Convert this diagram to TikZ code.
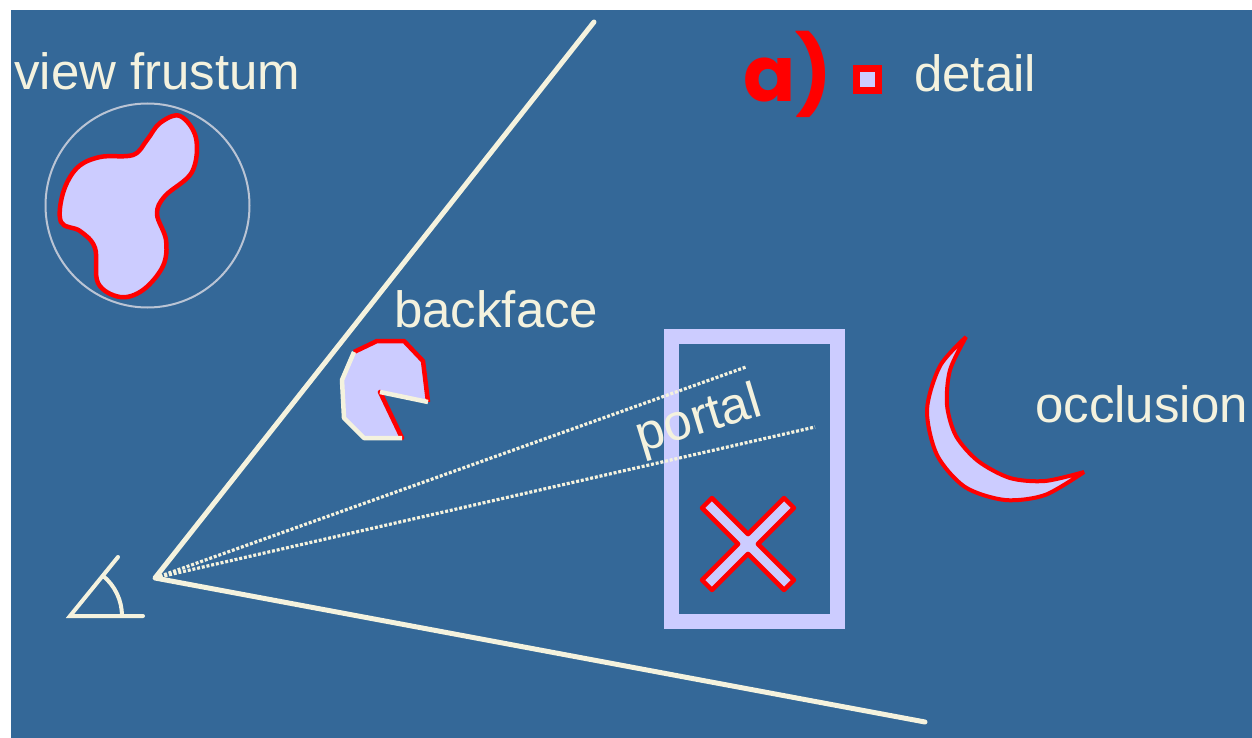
\documentclass[tikz,border=0pt]{standalone}
\usepackage{fontspec}
\setmainfont{Liberation Sans}
\newfontfamily\tagfont{Poppins}
\usepackage{tikz}
\usetikzlibrary{calc,positioning}
\definecolor{bgblue}{RGB}{52,104,152}
\definecolor{cream}{RGB}{244,242,222}
\definecolor{lilac}{RGB}{204,204,255}
\definecolor{ringgray}{RGB}{186,196,212}
\tikzset{
  word/.style={text=cream, inner sep=0pt, anchor=base west, font=\fontsize{51}{60}\selectfont},
  ray/.style={cream, line width=5pt, line cap=round, line join=round},
  sight/.style={cream, line width=3.2pt, dash pattern=on 3pt off 1.8pt},
  culled/.style={fill=lilac, draw=red, line width=4.5pt, line join=round},
}

\begin{document}
\begin{tikzpicture}[x=1pt,y=-1pt]
\useasboundingbox (0,0) rectangle (1252,738);
\fill[white] (0,0) rectangle (1252,738);
\fill[bgblue] (11,10) rectangle (1252,738);

\coordinate (E) at (155,578);
\coordinate (F1) at (594,22);
\coordinate (F2) at (925,722);
\coordinate (P1) at (746,367);
\coordinate (P2) at (815,427);

% eye
\coordinate (O) at (70,616);
\draw[cream, line width=4pt, line cap=round] (118,557) -- (O) -- (143,616);
\draw[cream, line width=4pt] (122,616) arc[start angle=0, end angle=-51, radius=52];

% portal frame and sight lines
\draw[lilac, line width=15pt] (671,336) rectangle (837,621);
\draw[ray] (F1) -- (E) -- (F2);
\draw[sight] (E) -- (P1);
\draw[sight] (E) -- (P2);
\node[word, anchor=center, rotate=17] (portal) at (699,421) {portal};

\begin{scope}[shift={(748,544)}, rotate=45]
\draw[culled] (7,7) -- (58,7) -- (58,-7) -- (7,-7) -- (7,-58) -- (-7,-58) -- (-7,-7)
  -- (-58,-7) -- (-58,7) -- (-7,7) -- (-7,58) -- (7,58) -- cycle;
\end{scope}

% view frustum
\draw[ringgray, line width=2pt] (147.5,205.5) circle[radius=102];
\draw[culled] plot[smooth cycle, tension=0.6] coordinates {
  (180,116) (196,138) (192,172) (165,196) (157,214) (166,240) (163,266)
  (143,290) (120,297) (98,283) (95,248) (80,231) (61,222) (63,193)
  (77,168) (100,157) (133,155) (147,140) (160,123)};
\node[word] (frustum) at (14,90) {view frustum};

% backface
\coordinate (B) at (380,392);
\fill[lilac] (428,402) -- (423,361) -- (404,341) -- (377,341) -- (354,352) -- (342,380)
  -- (344,418) -- (364,438) -- (402,438) -- (B) -- cycle;
\draw[red, line width=4.5pt, line join=round] (354,352) -- (377,341) -- (404,341) -- (423,361) -- (428,402);
\draw[red, line width=4.5pt, line cap=round] (B) -- (402,438);
\draw[cream, line width=4.5pt, line join=round] (428,402) -- (B);
\draw[cream, line width=4.5pt, line join=round] (402,438) -- (364,438) -- (344,418) -- (342,380) -- (354,352);
\node[word] (backface) at (394,327) {backface};

% occlusion
\draw[culled, line width=4pt, line join=miter, miter limit=2.5] plot[smooth] coordinates {
  (966,337) (940,366) (927,410) (937,455) (965,487) (1005,500) (1045,495) (1084,472)}
  -- plot[smooth] coordinates {
  (1084,472) (1045,481) (1010,478) (978,461) (956,436) (947,405) (950,370) (966,337)}
  -- cycle;
\node[word] (occlusion) at (1035,422) {occlusion};

% detail
\draw[red, fill=lilac, line width=7pt] (856,69) rectangle (878,91);
\node[word] (detail) at (914,92) {detail};
\node[inner sep=0pt, anchor=base west, text=red, font=\tagfont\bfseries\fontsize{77}{90}\selectfont] (tag) at (743,102) {a)};
\end{tikzpicture}
\end{document}
